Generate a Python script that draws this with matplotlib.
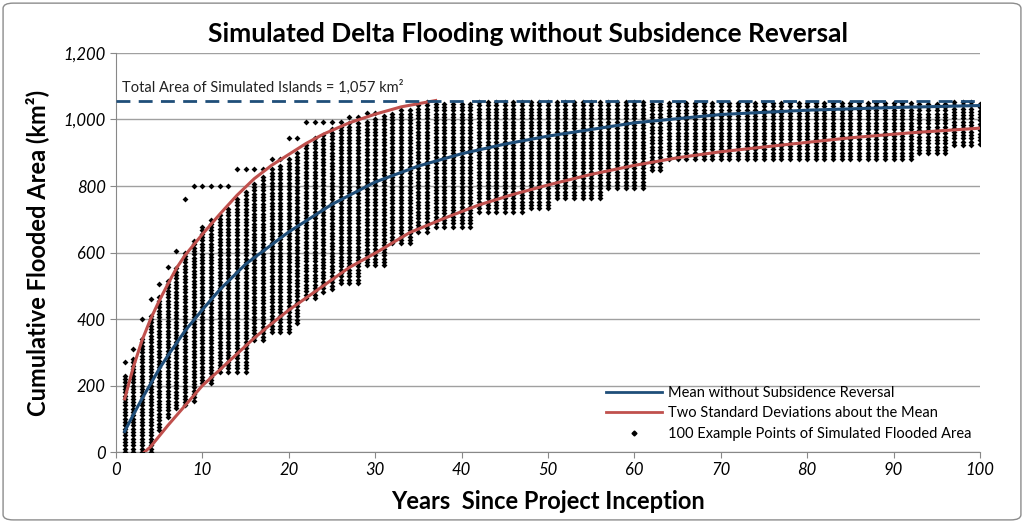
import numpy as np
import matplotlib
matplotlib.use('Agg')
import matplotlib.pyplot as plt
from matplotlib.lines import Line2D
from matplotlib.patches import FancyBboxPatch

plt.rcParams['font.family'] = ['Lato', 'DejaVu Sans']

# simulated example points: per year, the bottom of the column, the top of the
# dense part and the highest stray point (km2)
years = list(range(1, 101))
col_lo = [0, 0, 0, 0, 65, 105, 132, 140, 155, 207,
          207, 242, 242, 242, 242, 337, 337, 360, 360, 360,
          388, 463, 463, 482, 490, 508, 508, 508, 562, 562,
          562, 628, 628, 628, 663, 663, 678, 678, 678, 678,
          678, 723, 723, 723, 723, 723, 723, 733, 733, 733,
          763, 763, 763, 763, 763, 763, 793, 793, 793, 793,
          793, 848, 848, 880, 880, 880, 880, 880, 880, 880,
          880, 880, 880, 880, 880, 880, 880, 880, 880, 880,
          880, 880, 880, 880, 880, 880, 880, 880, 880, 880,
          880, 880, 898, 898, 898, 898, 923, 923, 923, 927]
col_hi = [272, 310, 400, 460, 505, 556, 604, 761, 800, 800,
          800, 800, 800, 851, 851, 851, 851, 881, 881, 944,
          944, 992, 992, 992, 992, 992, 1008, 1008, 1019, 1019,
          1019, 1024, 1034, 1034, 1044] + [1055] * 65
core_hi = [230, 280, 340, 410, 470, 520, 560, 600, 640, 680,
           700, 720, 740, 770, 790, 810, 830, 850, 860, 880,
           900, 930, 950, 960, 970, 980, 990, 990, 1000, 1010] + col_hi[30:]

# mean and two standard deviation curves
mean_x = [1, 2, 3, 4, 5, 6, 8, 10, 12, 15, 20, 25, 30, 35, 40, 45, 50, 60, 70, 80, 90, 100]
mean_y = [62, 112, 160, 205, 250, 290, 365, 428, 488, 565, 662, 745, 812, 860, 897, 926, 950, 990, 1015, 1028, 1036, 1042]

upper_x = [1, 2, 3, 4, 5, 6, 7, 8, 10, 12, 14, 16, 18, 20, 22, 24, 27, 30, 33, 37]
upper_y = [160, 255, 335, 400, 455, 505, 553, 592, 655, 715, 772, 822, 862, 895, 928, 956, 990, 1016, 1038, 1057]

lower_x = [3.3, 4, 6, 8, 10, 12, 14, 16, 18, 20, 24, 27, 30, 34, 38, 42, 46, 50, 55, 60, 65, 70, 77, 85, 92, 100]
lower_y = [0, 16, 80, 140, 200, 247, 295, 343, 386, 427, 500, 555, 598, 660, 703, 743, 775, 803, 835, 862, 885, 903, 923, 945, 960, 974]

total_area = 1057

fig = plt.figure(figsize=(10.24, 5.22), dpi=100)
ax = fig.add_axes([0.1133, 0.134, 0.8437, 0.7645])

px, py = [], []
for yr, lo, ch, hi in zip(years, col_lo, core_hi, col_hi):
    vals = list(np.arange(lo, ch + 1, 10))
    if hi > ch:
        vals.append(hi)
    px += [yr] * len(vals)
    py += vals
ax.scatter(px, py, s=9, marker='D', color='black', linewidths=0, zorder=3)

ax.plot(mean_x, mean_y, color='#1F4E79', lw=2.2, zorder=4)
ax.plot(upper_x, upper_y, color='#C0504D', lw=2.2, zorder=4)
ax.plot(lower_x, lower_y, color='#C0504D', lw=2.2, zorder=4)
ax.axhline(total_area, color='#1F4E79', lw=2, ls=(0, (5, 3)), zorder=5)
ax.text(0.7, total_area + 18, 'Total Area of Simulated Islands = 1,057 km²',
        fontsize=10.5, color='#222222', va='bottom', ha='left')

ax.set_xlim(0, 100)
ax.set_ylim(0, 1200)
ax.set_xticks(range(0, 101, 10))
ax.set_yticks(range(0, 1201, 200))
ax.set_yticklabels(['{:,}'.format(v) for v in range(0, 1201, 200)])
ax.tick_params(axis='both', labelsize=12, color='#888888', length=4)
for lab in ax.get_xticklabels() + ax.get_yticklabels():
    lab.set_fontstyle('italic')
ax.grid(axis='y', color='#A0A0A0', lw=1)
ax.set_axisbelow(True)
for s in ['top', 'right']:
    ax.spines[s].set_visible(False)
for s in ['left', 'bottom']:
    ax.spines[s].set_color('#888888')

ax.set_xlabel('Years  Since Project Inception', fontsize=17, fontweight='bold', labelpad=8)
ax.set_ylabel('Cumulative Flooded Area (km²)', fontsize=17, fontweight='bold', labelpad=10)
fig.text(0.516, 0.935, 'Simulated Delta Flooding without Subsidence Reversal',
         fontsize=19, fontweight='bold', ha='center', va='center')

handles = [Line2D([], [], color='#1F4E79', lw=2),
           Line2D([], [], color='#C0504D', lw=2),
           Line2D([], [], color='black', marker='D', ms=2.5, ls='none')]
labels = ['Mean without Subsidence Reversal',
          'Two Standard Deviations about the Mean',
          '100 Example Points of Simulated Flooded Area']
ax.legend(handles, labels, loc='lower right', bbox_to_anchor=(1.005, -0.005), frameon=False,
          fontsize=10.5, handlelength=3.8, handletextpad=0.4, labelspacing=0.45)

fig.patches.append(FancyBboxPatch((0.003, 0.004), 0.994, 0.99,
                                  boxstyle='round,pad=0,rounding_size=0.01',
                                  transform=fig.transFigure, fill=False,
                                  edgecolor='#8c8c8c', lw=1))

plt.savefig('out.png')
